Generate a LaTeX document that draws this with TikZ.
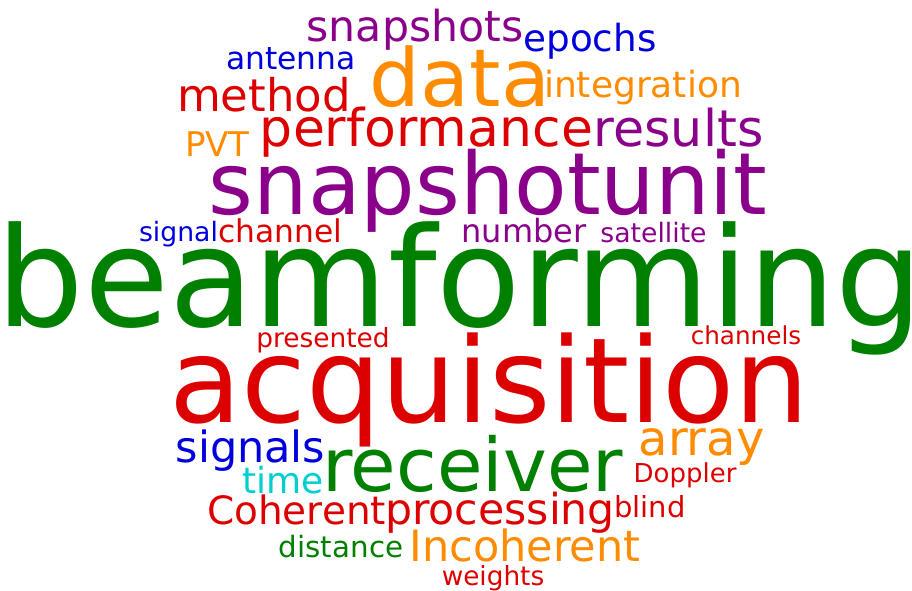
\documentclass[tikz,border=0pt]{standalone}
\usepackage{fontspec}
\setmainfont{DejaVu Sans}
\usepackage{tikz}

\definecolor{wgreen}{HTML}{008000}
\definecolor{wred}{HTML}{DD0000}
\definecolor{wpurple}{HTML}{8B008B}
\definecolor{worange}{HTML}{FF8C00}
\definecolor{wblue}{HTML}{0000DD}
\definecolor{wcyan}{HTML}{00CED1}

\begin{document}
\begin{tikzpicture}[x=0.75pt,y=-0.75pt,
  word/.style={anchor=base,inner sep=0pt,outer sep=0pt},
  sz/.style={font=\fontsize{#1}{#1}\selectfont}]
  \useasboundingbox (0,0) rectangle (912,591);

  % big words
  \node[word,sz=103.5pt,text=wgreen] (beam) at (460,326) {beamforming};
  \node[word,sz=88.5pt,text=wred] (acq) at (489.5,422) {acquisition};
  \node[word,sz=64.5pt,text=wpurple] (snap) at (405,215) {snapshot};
  \node[word,sz=64.5pt,text=wpurple] (unit) at (684,215) {unit};
  \node[word,sz=60pt,text=worange] (data) at (460,107) {data};
  \node[word,sz=55.5pt,text=wgreen] (recv) at (472.5,491) {receiver};

  % upper words
  \node[word,sz=32pt,text=wpurple] (snaps) at (415,42) {snapshots};
  \node[word,sz=28pt,text=wblue] (epochs) at (590,52) {epochs};
  \node[word,sz=23.5pt,text=wblue] (ant) at (291,70) {antenna};
  \node[word,sz=27pt,text=worange] (integ) at (643,98) {integration};
  \node[word,sz=33.75pt,text=wred] (meth) at (264,112) {method};
  \node[word,sz=39pt,text=wred] (perf) at (426.5,147) {performance};
  \node[word,sz=38pt,text=wpurple] (res) at (678.5,147) {results};
  \node[word,sz=25.5pt,text=worange] (pvt) at (217.5,157) {PVT};

  % middle row
  \node[word,sz=20pt,text=wblue] (sig) at (178.5,242) {signal};
  \node[word,sz=23.5pt,text=wred] (chan) at (280,243) {channel};
  \node[word,sz=24pt,text=wpurple] (num) at (524,243) {number};
  \node[word,sz=20pt,text=wpurple] (sat) at (653.5,243) {satellite};
  \node[word,sz=19.8pt,text=wred] (pres) at (323,347) {presented};
  \node[word,sz=18.5pt,text=wred] (chans) at (746,344) {channels};

  % lower words
  \node[word,sz=32.25pt,text=wblue] (sigs) at (250.5,462) {signals};
  \node[word,sz=36pt,text=worange] (arr) at (701.5,455) {array};
  \node[word,sz=27pt,text=wcyan] (time) at (283,493) {time};
  \node[word,sz=19.5pt,text=wred] (dop) at (685,482) {Doppler};
  \node[word,sz=29.25pt,text=wred] (coh) at (296.5,524) {Coherent};
  \node[word,sz=32pt,text=wred] (proc) at (500,524) {processing};
  \node[word,sz=21.75pt,text=wred] (blind) at (650,517) {blind};
  \node[word,sz=22pt,text=wgreen] (dist) at (341,557) {distance};
  \node[word,sz=32.25pt,text=worange] (incoh) at (525,561) {Incoherent};
  \node[word,sz=19.75pt,text=wred] (wts) at (493,585) {weights};
\end{tikzpicture}
\end{document}
